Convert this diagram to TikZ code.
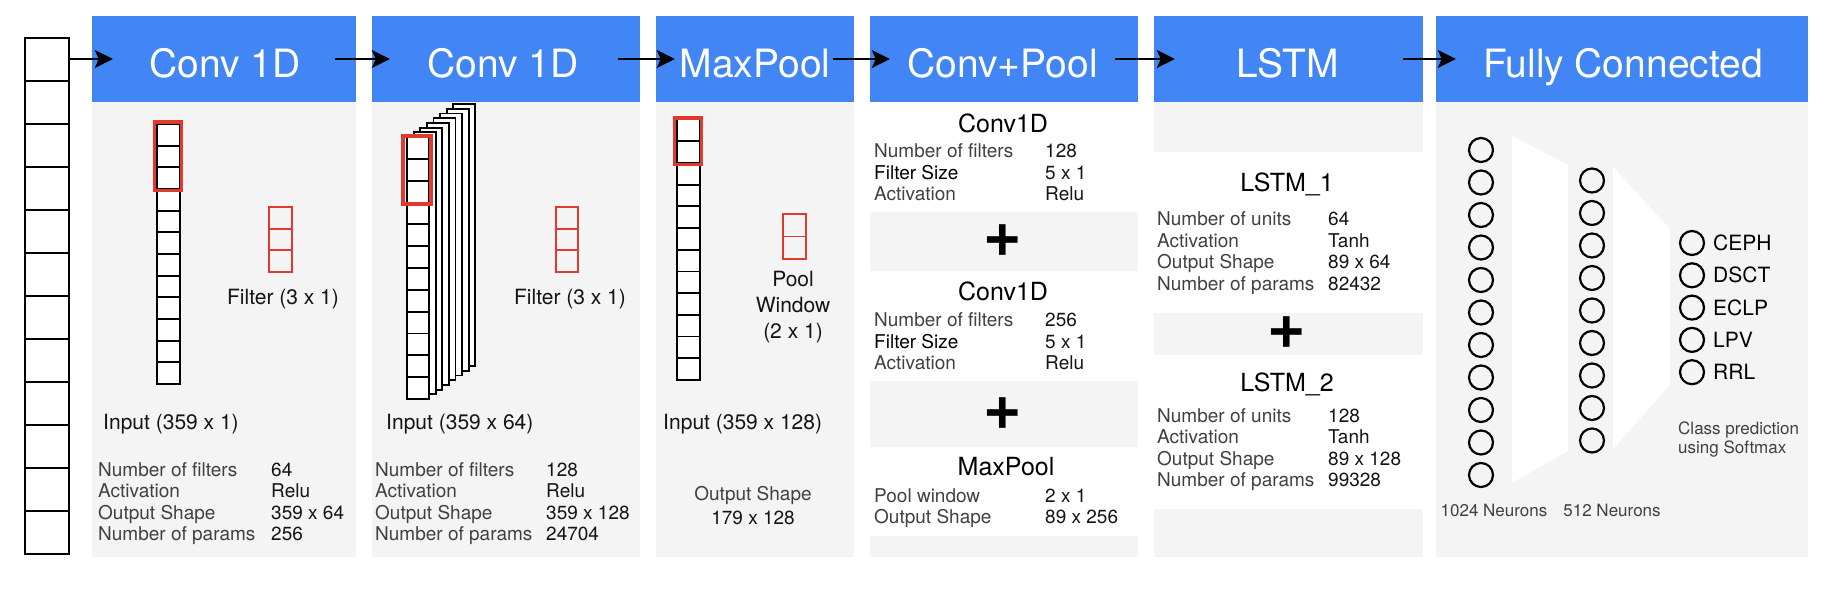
\documentclass[tikz,border=0pt]{standalone}
\usepackage{fontspec}
\setmainfont{TeX Gyre Heros}
\usetikzlibrary{arrows.meta}
\definecolor{hblue}{RGB}{66,133,244}
\definecolor{pgray}{RGB}{244,244,244}
\definecolor{fred}{RGB}{222,58,46}
\definecolor{labgray}{RGB}{64,64,64}
\definecolor{valblack}{RGB}{20,20,20}
\tikzset{
  header/.style={fill=hblue, draw=none, inner sep=0pt, minimum height=86pt},
  htext/.style={text=white, font=\fontsize{39}{39}\selectfont, anchor=base, inner sep=0pt},
  bigcell/.style={draw=black, line width=2pt, fill=white, minimum width=44pt, minimum height=43pt, inner sep=0pt},
  cell/.style={draw=black, line width=1.8pt, fill=white, minimum width=23pt, minimum height=21.7pt, inner sep=0pt},
  redcell/.style={draw=fred, line width=1.8pt, minimum width=23pt, minimum height=21.7pt, inner sep=0pt},
  redbox/.style={draw=fred, line width=3.5pt},
  labtxt/.style={anchor=base west, inner sep=0pt, text=labgray, font=\fontsize{19}{21}\selectfont},
  valtxt/.style={anchor=base west, inner sep=0pt, text=valblack, font=\fontsize{19}{21}\selectfont},
  midtxt/.style={anchor=base, inner sep=0pt, text=valblack, font=\fontsize{21}{25}\selectfont},
  subtxt/.style={anchor=base, inner sep=0pt, text=black, font=\fontsize{25}{25}\selectfont},
  plustxt/.style={inner sep=0pt, text=black, font=\fontsize{66}{66}\selectfont\bfseries},
  neuron/.style={circle, draw=black, line width=2.2pt, minimum size=24pt, inner sep=0pt},
  clstxt/.style={anchor=base west, inner sep=0pt, text=black, font=\fontsize{21}{21}\selectfont},
  smalltxt/.style={inner sep=0pt, text=labgray, font=\fontsize{17}{19}\selectfont},
  arr/.style={line width=2pt, draw=black, -{Stealth[length=18pt,width=18pt,inset=4pt]}},
}
\begin{document}
\begin{tikzpicture}[x=1pt,y=-1pt]
\useasboundingbox (0,0) rectangle (1836,590);
% panel backgrounds
\fill[pgray] (92,102) rectangle (356,557);
\fill[pgray] (372,102) rectangle (640,557);
\fill[pgray] (656,102) rectangle (854,557);
\fill[pgray] (870,212) rectangle (1138,271);
\fill[pgray] (870,380.5) rectangle (1138,446.5);
\fill[pgray] (870,535.5) rectangle (1138,557);
\fill[pgray] (1154,102) rectangle (1423,152);
\fill[pgray] (1154,313) rectangle (1423,355);
\fill[pgray] (1154,509) rectangle (1423,557);
\fill[pgray] (1436,102) rectangle (1808,557);
% headers
\node[header, minimum width=264pt] (h1) at (224,59) {};
\node[header, minimum width=268pt] (h2) at (506,59) {};
\node[header, minimum width=198pt] (h3) at (755,59) {};
\node[header, minimum width=268pt] (h4) at (1004,59) {};
\node[header, minimum width=269pt] (h5) at (1288.5,59) {};
\node[header, minimum width=372pt] (h6) at (1622,59) {};
\node[htext] (t1) at (225,77) {Conv 1D};
\node[htext] (t2) at (503,77) {Conv 1D};
\node[htext] (t3) at (755,77) {MaxPool};
\node[htext] (t4) at (1002.5,77) {Conv+Pool};
\node[htext] (t5) at (1288,77) {LSTM};
\node[htext] (t6) at (1623,77) {Fully Connected};
% input column
\foreach \i in {1,...,12} \node[bigcell] (in\i) at (47,{37.5+43*(\i-0.5)}) {};
% arrows
\draw[arr] (in1.east) -- ([xshift=21pt]h1.west);
\draw[arr] ([xshift=-21pt]h1.east) -- ([xshift=18pt]h2.west);
\draw[arr] ([xshift=-22pt]h2.east) -- ([xshift=19pt]h3.west);
\draw[arr] ([xshift=-21pt]h3.east) -- ([xshift=20pt]h4.west);
\draw[arr] ([xshift=-23pt]h4.east) -- ([xshift=21pt]h5.west);
\draw[arr] ([xshift=-20pt]h5.east) -- ([xshift=20pt]h6.west);
% ---- panel 1
\foreach \i in {1,...,12} \node[cell] (pa\i) at (168.5,{124+21.67*(\i-0.5)}) {};
\draw[redbox] (154.5,122) rectangle (181.5,190.5);
\foreach \i in {1,2,3} \node[redcell] (fa\i) at (280.5,{207+21.67*(\i-0.5)}) {};
\node[midtxt] (fta) at (283,304) {Filter (3 x 1)};
\node[midtxt, anchor=base west] (ina) at (103,429.5) {Input (359 x 1)};
\foreach \l/\v [count=\i] in {Number of filters/64, Activation/Relu, Output Shape/359 x 64, Number of params/256} {
  \node[labtxt] (la\i) at (98,{476+21.5*(\i-1)}) {\l};
  \node[valtxt] (va\i) at (271,{476+21.5*(\i-1)}) {\v};
}
% ---- panel 2
\foreach \j in {7,6,5,4,3,2,1} \draw[line width=1.8pt, fill=white] ({407+6.6*\j},{137-4.7*\j}) rectangle ++(22,262);
\foreach \i in {1,...,12} \node[cell, minimum width=22pt, minimum height=21.83pt] (pb\i) at (418,{137+21.83*(\i-0.5)}) {};
\draw[redbox] (403,136) rectangle (431,204);
\foreach \i in {1,2,3} \node[redcell, minimum width=22pt] (fb\i) at (567,{207+21.67*(\i-0.5)}) {};
\node[midtxt] (ftb) at (570,304) {Filter (3 x 1)};
\node[midtxt, anchor=base west] (inb) at (386,429.5) {Input (359 x 64)};
\foreach \l/\v [count=\i] in {Number of filters/128, Activation/Relu, Output Shape/359 x 128, Number of params/24704} {
  \node[labtxt] (lb\i) at (375,{476+21.5*(\i-1)}) {\l};
  \node[valtxt] (vb\i) at (546,{476+21.5*(\i-1)}) {\v};
}
% ---- panel 3
\foreach \i in {1,...,12} \node[cell] (pc\i) at (688.5,{119.5+21.7*(\i-0.5)}) {};
\draw[redbox] (674.5,118) rectangle (701.5,164.5);
\foreach \i in {1,2} \node[redcell, minimum height=22.5pt] (fc\i) at (794.5,{214+22.5*(\i-0.5)}) {};
\node[midtxt] (pw1) at (793,286.5) {Pool};
\node[midtxt] (pw2) at (793,312.8) {Window};
\node[midtxt] (pw3) at (793,338) {(2 x 1)};
\node[midtxt, anchor=base west] (inc) at (663,429.5) {Input (359 x 128)};
\node[midtxt, font=\fontsize{19}{21}\selectfont, text=labgray] (os1) at (753,500) {Output Shape};
\node[midtxt, font=\fontsize{19}{21}\selectfont] (os2) at (753,524.4) {179 x 128};
% ---- panel 4
\node[subtxt] (cv1) at (1003,132.3) {Conv1D};
\node[labtxt] (ld1) at (874,157.5) {Number of filters};
\node[labtxt, text=black] (ld2) at (874,179.2) {Filter Size};
\node[labtxt] (ld3) at (874,200.9) {Activation};
\node[valtxt] (vd1) at (1045,157.5) {128};
\node[valtxt] (vd2) at (1045,179.2) {5 x 1};
\node[valtxt] (vd3) at (1045,200.9) {Relu};
\node[plustxt] (pl1) at (1003,240.6) {+};
\node[subtxt] (cv2) at (1003,300.8) {Conv1D};
\node[labtxt] (ld4) at (874,326.5) {Number of filters};
\node[labtxt, text=black] (ld5) at (874,348.2) {Filter Size};
\node[labtxt] (ld6) at (874,369.9) {Activation};
\node[valtxt] (vd4) at (1045,326.5) {256};
\node[valtxt] (vd5) at (1045,348.2) {5 x 1};
\node[valtxt] (vd6) at (1045,369.9) {Relu};
\node[plustxt] (pl2) at (1003,413.5) {+};
\node[subtxt] (mp) at (1006,475.6) {MaxPool};
\node[labtxt] (ld7) at (874,502) {Pool window};
\node[labtxt] (ld8) at (874,523.7) {Output Shape};
\node[valtxt] (vd7) at (1045,502) {2 x 1};
\node[valtxt] (vd8) at (1045,523.7) {89 x 256};
% ---- panel 5
\node[subtxt] (ls1) at (1287,191) {LSTM\_1};
\foreach \l/\v [count=\i] in {Number of units/64, Activation/Tanh, Output Shape/89 x 64, Number of params/82432} {
  \node[labtxt] (le\i) at (1157,{225.5+21.5*(\i-1)}) {\l};
  \node[valtxt] (ve\i) at (1328,{225.5+21.5*(\i-1)}) {\v};
}
\node[plustxt] (pl3) at (1287,333) {+};
\node[subtxt] (ls2) at (1287,391) {LSTM\_2};
\foreach \l/\v [count=\i] in {Number of units/128, Activation/Tanh, Output Shape/89 x 128, Number of params/99328} {
  \node[labtxt] (lf\i) at (1157,{422+21.5*(\i-1)}) {\l};
  \node[valtxt] (vf\i) at (1328,{422+21.5*(\i-1)}) {\v};
}
% ---- panel 6
\fill[white] (1512,136) -- (1568,165) -- (1568,451) -- (1512,483) -- cycle;
\fill[white] (1613,167) -- (1670,229) -- (1670,385) -- (1613,449) -- cycle;
\foreach \i in {1,...,11} \node[neuron] (na\i) at (1481,{150+32.5*(\i-1)}) {};
\foreach \i in {1,...,9} \node[neuron] (nb\i) at (1592,{180.5+32.5*(\i-1)}) {};
\foreach \l [count=\i] in {CEPH,DSCT,ECLP,LPV,RRL} {
  \node[neuron] (nc\i) at (1692,{243+32.3*(\i-1)}) {};
  \node[clstxt] (cl\i) at (1713,{250.5+32.3*(\i-1)}) {\l};
}
\node[smalltxt, anchor=base west] (cp1) at (1678,434) {Class prediction};
\node[smalltxt, anchor=base west] (cp2) at (1678,453) {using Softmax};
\node[smalltxt, anchor=base] (n1024) at (1494,516) {1024 Neurons};
\node[smalltxt, anchor=base] (n512) at (1612,516) {512 Neurons};
\end{tikzpicture}
\end{document}
